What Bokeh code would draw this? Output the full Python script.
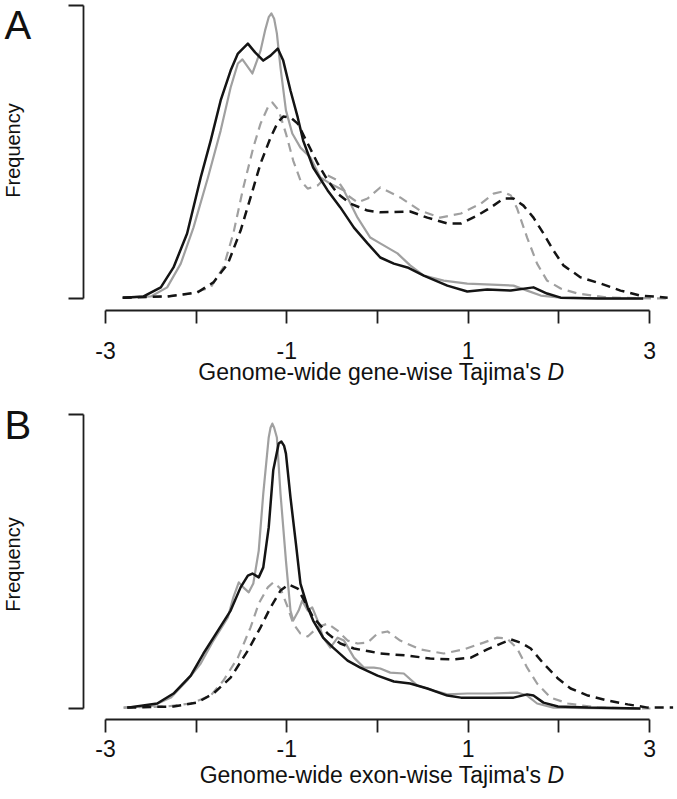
from math import pi
from bokeh.plotting import figure
from bokeh.models import Range1d, FixedTicker, Label
from bokeh.layouts import column
from bokeh.embed import file_html
from bokeh.resources import INLINE

FONT = "Liberation Sans"
BLACK = "#141414"
GRAY = "#a0a0a0"
AXIS = "#1e1e1e"
TXT = "#111111"

x_ticks = [-3, -2, -1, 0, 1, 2, 3]
x_tick_labels = {-3: "-3", -2: "", -1: "-1", 0: "", 1: "1", 2: "", 3: "3"}
y_ticks = [0, 1]
y_label = "Frequency"
xlabel_a = "Genome-wide gene-wise Tajima's"
xlabel_b = "Genome-wide exon-wise Tajima's"
xlabel_var = "D"

# ---- Panel A: gene-wise Tajima's D (relative frequency, axis top = 1) ----
a_solid_black_x = [-2.81, -2.58, -2.39, -2.25, -2.10, -1.95, -1.84, -1.73, -1.62, -1.54, -1.43, -1.35, -1.26,
                   -1.18, -1.10, -1.04, -0.96, -0.88, -0.82, -0.71, -0.55, -0.41, -0.26, -0.11, 0.03, 0.18,
                   0.33, 0.51, 0.77, 0.99, 1.21, 1.47, 1.72, 1.87, 2.02, 2.43, 2.93]
a_solid_black_y = [0.003, 0.007, 0.038, 0.106, 0.222, 0.413, 0.539, 0.676, 0.778, 0.836, 0.870, 0.840, 0.812,
                   0.829, 0.853, 0.812, 0.710, 0.618, 0.539, 0.447, 0.369, 0.311, 0.242, 0.188, 0.140, 0.119,
                   0.106, 0.078, 0.044, 0.024, 0.031, 0.027, 0.038, 0.017, 0.003, 0.0, 0.0]

a_solid_gray_x = [-2.81, -2.50, -2.32, -2.17, -2.03, -1.87, -1.73, -1.62, -1.54, -1.49, -1.38, -1.29, -1.24,
                  -1.20, -1.17, -1.14, -1.11, -1.07, -1.01, -0.94, -0.85, -0.74, -0.63, -0.52, -0.37, -0.22,
                  -0.08, 0.03, 0.22, 0.36, 0.51, 0.73, 0.99, 1.50, 1.65, 1.80, 2.02, 2.60, 2.93]
a_solid_gray_y = [0.003, 0.007, 0.038, 0.119, 0.242, 0.413, 0.573, 0.720, 0.802, 0.816, 0.768, 0.846, 0.915,
                  0.960, 0.973, 0.955, 0.905, 0.788, 0.642, 0.563, 0.515, 0.481, 0.413, 0.392, 0.369, 0.276,
                  0.208, 0.188, 0.154, 0.113, 0.078, 0.061, 0.051, 0.044, 0.027, 0.010, 0.003, 0.0, 0.0]

a_dash_gray_x = [-2.81, -2.32, -2.06, -1.84, -1.70, -1.59, -1.48, -1.37, -1.29, -1.21, -1.16, -1.09, -1.01,
                 -0.93, -0.85, -0.77, -0.66, -0.55, -0.44, -0.33, -0.22, -0.11, 0.03, 0.25, 0.47, 0.69, 0.92,
                 1.14, 1.28, 1.38, 1.47, 1.54, 1.65, 1.76, 1.87, 2.02, 2.21, 2.54, 3.18]
a_dash_gray_y = [0.003, 0.007, 0.017, 0.038, 0.106, 0.222, 0.379, 0.515, 0.597, 0.652, 0.669, 0.642, 0.563,
                 0.471, 0.403, 0.375, 0.386, 0.420, 0.403, 0.352, 0.328, 0.341, 0.379, 0.345, 0.300, 0.276,
                 0.290, 0.324, 0.358, 0.365, 0.352, 0.307, 0.208, 0.119, 0.061, 0.034, 0.017, 0.003, 0.0]

a_dash_black_x = [-2.81, -2.32, -1.99, -1.81, -1.65, -1.51, -1.40, -1.29, -1.18, -1.10, -1.04, -0.96, -0.88,
                  -0.77, -0.66, -0.55, -0.44, -0.30, -0.11, 0.03, 0.36, 0.55, 0.77, 0.92, 1.10, 1.25, 1.39,
                  1.50, 1.61, 1.72, 1.83, 1.94, 2.05, 2.24, 2.46, 2.68, 2.90, 3.20]
a_dash_black_y = [0.003, 0.007, 0.020, 0.055, 0.119, 0.232, 0.345, 0.461, 0.549, 0.601, 0.621, 0.618, 0.597,
                  0.529, 0.461, 0.403, 0.358, 0.324, 0.300, 0.294, 0.297, 0.276, 0.256, 0.256, 0.283, 0.311,
                  0.341, 0.341, 0.317, 0.276, 0.222, 0.164, 0.113, 0.072, 0.051, 0.027, 0.010, 0.003]

# ---- Panel B: exon-wise Tajima's D ----
b_solid_gray_x = [-2.80, -2.47, -2.28, -2.10, -1.95, -1.81, -1.65, -1.59, -1.53, -1.48, -1.42, -1.37, -1.31,
                  -1.26, -1.20, -1.18, -1.16, -1.14, -1.11, -1.07, -1.01, -0.96, -0.93, -0.87, -0.83, -0.77,
                  -0.72, -0.66, -0.60, -0.52, -0.44, -0.37, -0.26, -0.15, -0.04, 0.03, 0.14, 0.29, 0.44, 0.62,
                  0.77, 0.99, 1.25, 1.54, 1.65, 1.76, 1.94, 2.60, 2.90]
b_solid_gray_y = [0.003, 0.010, 0.037, 0.095, 0.153, 0.231, 0.310, 0.378, 0.429, 0.412, 0.395, 0.425, 0.537,
                  0.731, 0.922, 0.955, 0.969, 0.955, 0.922, 0.731, 0.503, 0.333, 0.299, 0.333, 0.367, 0.333,
                  0.344, 0.299, 0.241, 0.207, 0.241, 0.231, 0.173, 0.139, 0.139, 0.136, 0.122, 0.119, 0.078,
                  0.061, 0.048, 0.051, 0.051, 0.054, 0.044, 0.017, 0.003, 0.0, 0.0]

b_solid_black_x = [-2.76, -2.43, -2.25, -2.06, -1.92, -1.76, -1.62, -1.51, -1.43, -1.38, -1.31, -1.26, -1.20,
                   -1.15, -1.09, -1.06, -1.03, -1.01, -0.96, -0.90, -0.85, -0.77, -0.71, -0.60, -0.49, -0.33,
                   -0.19, 0.00, 0.18, 0.36, 0.55, 0.77, 0.92, 1.21, 1.50, 1.65, 1.72, 1.83, 1.99, 2.32, 2.90]
b_solid_black_y = [0.003, 0.017, 0.051, 0.112, 0.187, 0.265, 0.333, 0.412, 0.452, 0.459, 0.446, 0.480, 0.616,
                   0.810, 0.901, 0.908, 0.893, 0.867, 0.718, 0.561, 0.425, 0.344, 0.299, 0.241, 0.207, 0.163,
                   0.139, 0.112, 0.092, 0.085, 0.068, 0.044, 0.037, 0.037, 0.037, 0.048, 0.044, 0.020, 0.007,
                   0.003, 0.0]

b_dash_gray_x = [-2.80, -2.32, -2.06, -1.84, -1.70, -1.54, -1.40, -1.31, -1.21, -1.15, -1.07, -0.99, -0.93,
                 -0.85, -0.77, -0.66, -0.55, -0.44, -0.33, -0.22, -0.11, 0.00, 0.11, 0.25, 0.47, 0.73, 0.95,
                 1.17, 1.32, 1.43, 1.54, 1.65, 1.76, 1.91, 2.10, 2.43, 3.01]
b_dash_gray_y = [0.003, 0.007, 0.017, 0.044, 0.095, 0.173, 0.276, 0.357, 0.412, 0.429, 0.408, 0.344, 0.289,
                 0.255, 0.245, 0.276, 0.289, 0.265, 0.231, 0.221, 0.224, 0.255, 0.262, 0.231, 0.201, 0.187,
                 0.201, 0.224, 0.241, 0.238, 0.204, 0.139, 0.085, 0.037, 0.017, 0.003, 0.0]

b_dash_black_x = [-2.76, -2.25, -1.99, -1.81, -1.62, -1.43, -1.29, -1.18, -1.07, -0.98, -0.88, -0.82, -0.71,
                  -0.55, -0.41, -0.26, -0.08, 0.03, 0.33, 0.58, 0.84, 1.03, 1.21, 1.36, 1.47, 1.58, 1.69,
                  1.83, 1.99, 2.13, 2.32, 2.54, 2.76, 2.98, 3.26]
b_dash_black_y = [0.003, 0.007, 0.020, 0.051, 0.105, 0.197, 0.276, 0.344, 0.401, 0.422, 0.408, 0.374, 0.310,
                  0.255, 0.221, 0.204, 0.194, 0.187, 0.180, 0.170, 0.167, 0.173, 0.201, 0.221, 0.235, 0.224,
                  0.204, 0.153, 0.102, 0.068, 0.044, 0.027, 0.014, 0.003, 0.003]


def make_panel(letter, xlabel, curves, height, y_start, y_end, xaxis_at, tick_standoff,
               xlabel_y, freq_y, letter_y):
    p = figure(width=677, height=height, output_backend="svg", toolbar_location=None,
               x_range=Range1d(-4.1581, 3.3085), y_range=Range1d(y_start, y_end),
               min_border=0, min_border_left=0, min_border_right=0, min_border_top=0,
               min_border_bottom=0)
    p.outline_line_color = None
    p.grid.visible = False
    p.background_fill_color = "white"
    p.border_fill_color = "white"

    xa = p.xaxis[0]
    xa.fixed_location = xaxis_at
    xa.ticker = FixedTicker(ticks=x_ticks)
    xa.major_label_overrides = x_tick_labels
    xa.bounds = (-3, 3)
    xa.minor_tick_line_color = None
    xa.major_tick_out = 13
    xa.major_tick_in = 0
    xa.axis_line_width = 1.8
    xa.axis_line_color = AXIS
    xa.major_tick_line_width = 1.8
    xa.major_tick_line_color = AXIS
    xa.major_label_text_font = FONT
    xa.major_label_text_font_size = "23px"
    xa.major_label_text_color = TXT
    xa.major_label_standoff = tick_standoff

    ya = p.yaxis[0]
    ya.fixed_location = -3.2426
    ya.ticker = FixedTicker(ticks=y_ticks)
    ya.major_label_overrides = {0: "", 1: ""}
    ya.bounds = (0, 1)
    ya.minor_tick_line_color = None
    ya.major_tick_out = 15
    ya.major_tick_in = 0
    ya.axis_line_width = 1.8
    ya.axis_line_color = AXIS
    ya.major_tick_line_width = 1.8
    ya.major_tick_line_color = AXIS

    for xs, ys, color, width, dash in curves:
        p.line(xs, ys, line_color=color, line_width=width, line_dash=dash, line_join="round")

    p.add_layout(Label(x=541, y=xlabel_y, x_units="screen", y_units="screen", text=xlabel,
                       text_align="right", text_baseline="middle", text_font=FONT,
                       text_font_size="23px", text_color=TXT))
    p.add_layout(Label(x=547, y=xlabel_y, x_units="screen", y_units="screen", text=xlabel_var,
                       text_align="left", text_baseline="middle", text_font=FONT,
                       text_font_size="23px", text_font_style="italic", text_color=TXT))
    p.add_layout(Label(x=12, y=freq_y, x_units="screen", y_units="screen", text=y_label,
                       angle=pi / 2, text_align="center", text_baseline="middle", text_font=FONT,
                       text_font_size="20px", text_color=TXT))
    p.add_layout(Label(x=4, y=letter_y, x_units="screen", y_units="screen", text=letter,
                       text_align="left", text_baseline="middle", text_font=FONT,
                       text_font_size="40px", text_color=TXT))
    return p


curves_a = [
    (a_solid_gray_x, a_solid_gray_y, GRAY, 2.2, "solid"),
    (a_dash_gray_x, a_dash_gray_y, GRAY, 2.2, "9 6"),
    (a_dash_black_x, a_dash_black_y, BLACK, 2.5, "9 6"),
    (a_solid_black_x, a_solid_black_y, BLACK, 2.5, "solid"),
]
curves_b = [
    (b_solid_gray_x, b_solid_gray_y, GRAY, 2.2, "solid"),
    (b_dash_gray_x, b_dash_gray_y, GRAY, 2.2, "9 6"),
    (b_dash_black_x, b_dash_black_y, BLACK, 2.5, "9 6"),
    (b_solid_black_x, b_solid_black_y, BLACK, 2.5, "solid"),
]

pa = make_panel("A", xlabel_a, curves_a, height=400, y_start=-0.3481, y_end=1.0171,
                xaxis_at=-0.04096, tick_standoff=18, xlabel_y=29, freq_y=250, letter_y=376)
pb = make_panel("B", xlabel_b, curves_b, height=399, y_start=-0.3095, y_end=1.0476,
                xaxis_at=-0.0374, tick_standoff=7, xlabel_y=25, freq_y=235, letter_y=375)

layout = column(pa, pb, spacing=0)
open("out.html", "w").write(file_html(layout, INLINE))
